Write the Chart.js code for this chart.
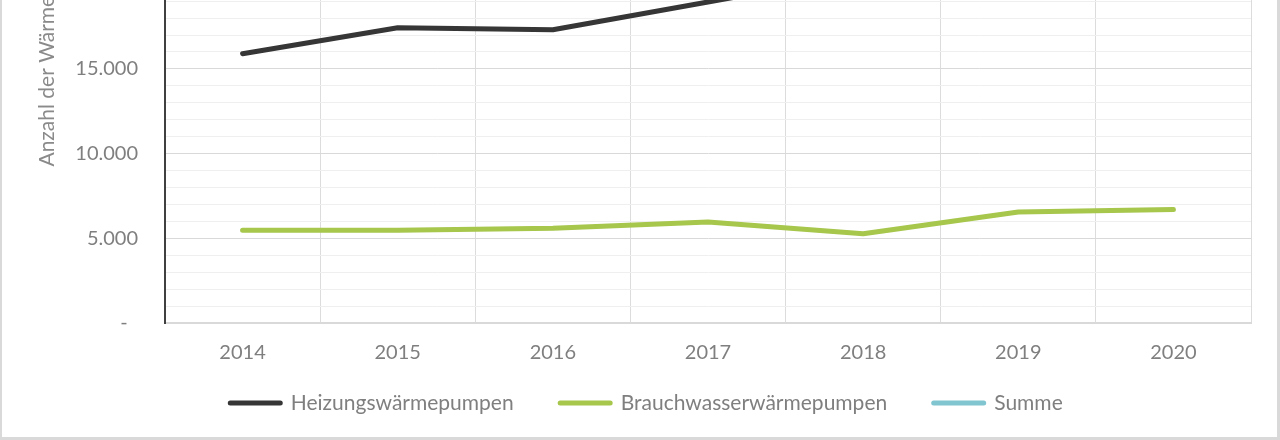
<!DOCTYPE html>
<html lang="de">
<head>
<meta charset="utf-8">
<title>Wärmepumpen</title>
<script src="https://cdn.jsdelivr.net/npm/chart.js@4.4.1/dist/chart.umd.min.js"></script>
<style>
    html, body { margin: 0; padding: 0; background: #fff; }
    #frame { position: relative; width: 1280px; height: 440px; overflow: hidden; background: #fff; }
    #chartBox { position: absolute; left: 0; top: -275px; width: 1280px; height: 715px; }
    #border {
        position: absolute; left: 0; top: 0; width: 1280px; height: 440px; box-sizing: border-box;
        border-left: 2px solid #d9d9d9; border-right: 3px solid #d9d9d9; border-bottom: 3px solid #d9d9d9;
        pointer-events: none;
    }
</style>
</head>
<body>
<div id="frame">
    <div id="chartBox"><canvas id="heatPumpChart"></canvas></div>
    <div id="border"></div>
</div>
<script>
// Jahre und Verkaufszahlen
const years = ['2014', '2015', '2016', '2017', '2018', '2019', '2020'];
const heizung = [15900, 17430, 17310, 18950, 20600, 23000, 25100];
const brauchwasser = [5470, 5470, 5600, 5960, 5270, 6550, 6700];
const summe = [21370, 22900, 22910, 24910, 25870, 29550, 31800];
const seriesNames = ['Heizungswärmepumpen', 'Brauchwasserwärmepumpen', 'Summe'];
const seriesColors = ['#363636', '#a6c64c', '#80c5cf'];

const yMax = 33000;
const fontName = 'Lato, "Open Sans", sans-serif';
const textGrey = '#7f7f7f';
const legendFont = { family: fontName, size: 21 };

// Tausenderpunkt wie im Original, Null als Strich
function formatNumber(v) {
    if (v === 0) return '-  ';
    return String(v).replace(/\B(?=(\d{3})+(?!\d))/g, '.');
}

// Abstand zwischen den Legendeneinträgen über angehängte Leerzeichen (~20px)
function legendGap() {
    const c = document.createElement('canvas').getContext('2d');
    c.font = legendFont.size + 'px ' + fontName;
    const w = c.measureText(' ').width || 5;
    return ' '.repeat(Math.max(1, Math.round(20 / w)));
}

function makeDataset(name, values, color) {
    return {
        label: name,
        data: values,
        borderColor: color,
        backgroundColor: color,
        borderWidth: 5,
        borderCapStyle: 'round',
        borderJoinStyle: 'round',
        pointRadius: 0,
        pointHoverRadius: 0,
        tension: 0,
        fill: false
    };
}

const gap = legendGap();
const ctx = document.getElementById('heatPumpChart').getContext('2d');
new Chart(ctx, {
    type: 'line',
    data: {
        labels: years,
        datasets: [
            makeDataset(seriesNames[0], heizung, seriesColors[0]),
            makeDataset(seriesNames[1], brauchwasser, seriesColors[1]),
            makeDataset(seriesNames[2], summe, seriesColors[2])
        ]
    },
    options: {
        responsive: true,
        maintainAspectRatio: false,
        animation: false,
        devicePixelRatio: 1,
        layout: { padding: { top: 0, right: 29, bottom: 16.5, left: 63.5 } },
        plugins: {
            tooltip: { enabled: false },
            legend: {
                position: 'bottom',
                labels: {
                    boxWidth: 50,
                    boxHeight: 0,
                    padding: 25,
                    color: textGrey,
                    font: legendFont,
                    generateLabels: chart => Chart.defaults.plugins.legend.labels.generateLabels(chart)
                        .map(item => Object.assign(item, { text: item.text + gap }))
                }
            }
        },
        scales: {
            x: {
                offset: true,
                grid: { offset: true, color: '#dcdcdc', lineWidth: 1, drawTicks: false },
                border: { color: '#d9d9d9', width: 2 },
                ticks: { color: textGrey, padding: 18, font: { family: fontName, size: 20 } },
                afterFit: scale => { scale.height = 44.5; }
            },
            y: {
                min: 0,
                max: yMax,
                grid: {
                    drawTicks: false,
                    lineWidth: 1,
                    color: c => (c.tick && c.tick.value % 5000 === 0) ? '#d9d9d9' : '#efefef'
                },
                border: { color: '#404040', width: 2 },
                ticks: {
                    stepSize: 1000,
                    autoSkip: false,
                    padding: 27,
                    color: textGrey,
                    font: { family: fontName, size: 20 },
                    callback: v => (v % 5000 === 0) ? formatNumber(v) : ''
                },
                title: {
                    display: true,
                    text: 'Anzahl der Wärmepumpen',
                    color: '#8a8a8a',
                    padding: { top: -28.5, bottom: 0 },
                    font: { family: fontName, size: 21 }
                },
                afterFit: scale => { scale.width = 101.5; }
            }
        }
    }
});
</script>
</body>
</html>
